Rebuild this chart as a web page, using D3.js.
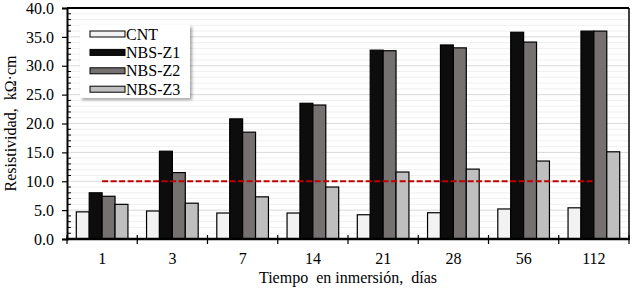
<!DOCTYPE html>
<html lang="es">
<head>
<meta charset="UTF-8">
<title>Resistividad</title>
<script src="https://d3js.org/d3.v7.min.js"></script>
<style>
  html, body { margin: 0; padding: 0; background: #fff; overflow: hidden; }
  svg { display: block; }
</style>
</head>
<body>
<div id="chart"></div>
<script>
const days = ["1", "3", "7", "14", "21", "28", "56", "112"];
const seriesNames = ["CNT", "NBS-Z1", "NBS-Z2", "NBS-Z3"];
const cnt   = [4.7, 4.85, 4.5, 4.5, 4.2, 4.55, 5.2, 5.4];
const nbsZ1 = [8.0, 15.2, 20.8, 23.5, 32.7, 33.6, 35.8, 36.0];
const nbsZ2 = [7.4, 11.5, 18.5, 23.2, 32.6, 33.1, 34.1, 36.0];
const nbsZ3 = [6.0, 6.2, 7.3, 9.0, 11.6, 12.1, 13.5, 15.1];
const limitValue = 10;
const yTicks = [0, 5, 10, 15, 20, 25, 30, 35, 40];

const colors = ["#f2f2f2", "#0d0d0d", "#767171", "#bfbfbf"];
const seriesValues = [cnt, nbsZ1, nbsZ2, nbsZ3];
const serif = "'Liberation Serif', 'Times New Roman', Times, serif";

const width = 633, height = 291;
const margin = { top: 8, right: 4, bottom: 52, left: 67 };
const innerWidth = width - margin.left - margin.right;
const innerHeight = height - margin.top - margin.bottom;

const svg = d3.select("#chart").append("svg")
  .attr("width", width).attr("height", height);

const defs = svg.append("defs");
const f = defs.append("filter").attr("id", "shadow")
  .attr("x", "-10%").attr("y", "-10%").attr("width", "130%").attr("height", "130%");
f.append("feDropShadow").attr("dx", 2).attr("dy", 2).attr("stdDeviation", 1.5)
  .attr("flood-color", "#000").attr("flood-opacity", 0.35);

const g = svg.append("g").attr("transform", `translate(${margin.left},${margin.top})`);

const x = d3.scaleBand().domain(days).range([0, innerWidth]).paddingInner(0).paddingOuter(0);
const x1 = d3.scaleBand().domain(seriesNames).range([9.3, x.bandwidth() - 9.3]);
const y = d3.scaleLinear().domain([0, 40]).range([innerHeight, 0]);

// grid: minor every 1, major every 5
const minor = d3.range(1, 40).filter(v => v % 5 !== 0);
g.append("g").selectAll("line").data(minor).join("line")
  .attr("x1", 0).attr("x2", innerWidth)
  .attr("y1", d => y(d)).attr("y2", d => y(d))
  .attr("stroke", "#f0f0f0").attr("stroke-width", 1);
g.append("g").selectAll("line").data(yTicks.filter(v => v > 0 && v < 40)).join("line")
  .attr("x1", 0).attr("x2", innerWidth)
  .attr("y1", d => y(d)).attr("y2", d => y(d))
  .attr("stroke", "#d9d9d9").attr("stroke-width", 1);

// bars
const rows = [];
days.forEach((d, i) => seriesNames.forEach((s, j) => rows.push({ day: d, s, j, v: seriesValues[j][i] })));
g.append("g").selectAll("rect").data(rows).join("rect")
  .attr("x", d => x(d.day) + x1(d.s))
  .attr("y", d => y(d.v))
  .attr("width", x1.bandwidth())
  .attr("height", d => innerHeight - y(d.v))
  .attr("fill", d => colors[d.j])
  .attr("stroke", "#000").attr("stroke-width", 1.2);

// red limit line
g.append("line")
  .attr("x1", x(days[0]) + x.bandwidth() / 2)
  .attr("x2", x(days[days.length - 1]) + x.bandwidth() / 2)
  .attr("y1", y(limitValue)).attr("y2", y(limitValue))
  .attr("stroke", "#c00000").attr("stroke-width", 2.2)
  .attr("stroke-dasharray", "6,2.5");

// frame top/right
g.append("line").attr("x1", 0).attr("x2", innerWidth).attr("y1", 0).attr("y2", 0)
  .attr("stroke", "#000").attr("stroke-width", 2);
g.append("line").attr("x1", innerWidth).attr("x2", innerWidth).attr("y1", 0).attr("y2", innerHeight)
  .attr("stroke", "#000").attr("stroke-width", 1.5);

// y axis
const yAxis = g.append("g").call(d3.axisLeft(y).tickValues(yTicks).tickFormat(d3.format(".1f")).tickSize(5).tickPadding(8));
yAxis.attr("font-family", serif).attr("font-size", 16);
yAxis.select(".domain").attr("stroke-width", 2);
yAxis.selectAll(".tick line").attr("stroke-width", 1.2);
g.append("g").selectAll("line").data(minor).join("line")
  .attr("x1", 0).attr("x2", 4)
  .attr("y1", d => y(d)).attr("y2", d => y(d))
  .attr("stroke", "#000").attr("stroke-width", 1);

// x axis
const xAxisG = g.append("g").attr("transform", `translate(0,${innerHeight})`);
xAxisG.append("line").attr("x1", -1).attr("x2", innerWidth + 1).attr("y1", 0).attr("y2", 0)
  .attr("stroke", "#000").attr("stroke-width", 2.5);
const boundaries = [0].concat(days.map(d => x(d) + x.bandwidth()));
xAxisG.selectAll(".bt").data(boundaries).join("line").attr("class", "bt")
  .attr("x1", d => d).attr("x2", d => d).attr("y1", -4).attr("y2", 5)
  .attr("stroke", "#000").attr("stroke-width", 1.2);
xAxisG.selectAll(".lbl").data(days).join("text").attr("class", "lbl")
  .attr("x", d => x(d) + x.bandwidth() / 2).attr("y", 24.5)
  .attr("text-anchor", "middle").attr("font-size", 16).text(d => d);

// axis titles
svg.append("text")
  .attr("x", margin.left + innerWidth / 2).attr("y", 283)
  .attr("text-anchor", "middle").attr("font-size", 16)
  .style("white-space", "pre")
  .text("Tiempo  en inmersión,  días");
svg.append("text")
  .attr("transform", `translate(16,${margin.top + innerHeight / 2}) rotate(-90)`)
  .attr("text-anchor", "middle").attr("font-size", 16)
  .style("white-space", "pre")
  .text("Resistividad,  kΩ·cm");

// legend
const legend = svg.append("g").attr("transform", "translate(80,25)");
legend.append("rect").attr("width", 110).attr("height", 73)
  .attr("fill", "#fff").attr("filter", "url(#shadow)");
seriesNames.forEach((s, i) => {
  const row = legend.append("g").attr("transform", `translate(0,${9 + i * 18.4})`);
  row.append("rect").attr("x", 10).attr("y", -3).attr("width", 35).attr("height", 6)
    .attr("fill", colors[i]).attr("stroke", "#000").attr("stroke-width", 1);
  row.append("text").attr("x", 46).attr("y", 5.5).attr("font-size", 16).text(s);
});

svg.selectAll("text").style("font-family", serif).attr("fill", "#000");
</script>
</body>
</html>
